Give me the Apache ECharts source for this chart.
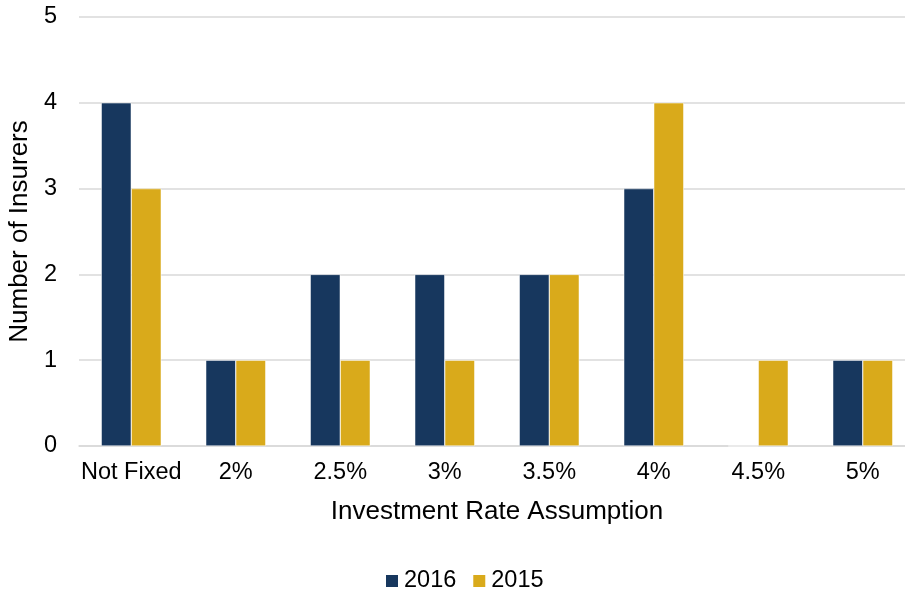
<!DOCTYPE html>
<html>
<head>
<meta charset="utf-8">
<script src="https://cdn.jsdelivr.net/npm/echarts@6/dist/echarts.min.js"></script>
<style>
  html, body { margin: 0; padding: 0; background: #fff; }
  #chart { width: 905px; height: 590px; }
</style>
</head>
<body>
<div id="chart"></div>
<script>
const categories = ['Not Fixed', '2%', '2.5%', '3%', '3.5%', '4%', '4.5%', '5%'];
const values2016 = [4, 1, 2, 2, 2, 3, 0, 1];
const values2015 = [3, 1, 1, 1, 2, 4, 1, 1];
const yTicks = [0, 1, 2, 3, 4, 5];

const myChart = echarts.init(document.getElementById('chart'));

const font = 'Liberation Sans, Arial, sans-serif';
const fs = 23.5;
const titleFs = 26;

let option = {
  animation: false,
  textStyle: { fontFamily: font },
  legend: {
    top: 564,
    left: 379,
    itemWidth: 14,
    itemHeight: 14,
    itemGap: 15,
    icon: 'rect',
    textStyle: { fontSize: fs, color: '#000', fontFamily: font },
    data: ['2016', '2015']
  },
  grid: {
    left: 79,
    top: 17,
    width: 836,
    height: 429,
    outerBoundsMode: 'none',
    containLabel: false
  },
  xAxis: {
    type: 'category',
    data: categories,
    name: 'Investment Rate Assumption',
    nameLocation: 'middle',
    nameGap: 53,
    nameTextStyle: { fontSize: titleFs, color: '#000', fontFamily: font },
    axisTick: { show: false },
    axisLine: { lineStyle: { color: '#d9d9d9', width: 1.5 } },
    axisLabel: { interval: 0, fontSize: fs, color: '#000', margin: 15, fontFamily: font }
  },
  yAxis: {
    type: 'value',
    min: yTicks[0],
    max: yTicks[yTicks.length - 1],
    interval: 1,
    name: 'Number of Insurers',
    nameLocation: 'middle',
    nameGap: 42,
    nameTextStyle: { fontSize: titleFs, color: '#000', fontFamily: font },
    axisLabel: { fontSize: fs, color: '#000', margin: 22, fontFamily: font },
    axisLine: { show: false },
    axisTick: { show: false },
    splitLine: { lineStyle: { color: '#d9d9d9', width: 1.5 } }
  },
  series: [
    {
      name: '2016',
      type: 'bar',
      data: values2016,
      barWidth: 30,
      barGap: '0%',
      itemStyle: { color: '#17375e', borderColor: '#ffffff', borderWidth: 0.5 }
    },
    {
      name: '2015',
      type: 'bar',
      data: values2015,
      barWidth: 30,
      itemStyle: { color: '#d9aa1b', borderColor: '#ffffff', borderWidth: 0.5 }
    }
  ]
};

myChart.setOption(option);
</script>
</body>
</html>
